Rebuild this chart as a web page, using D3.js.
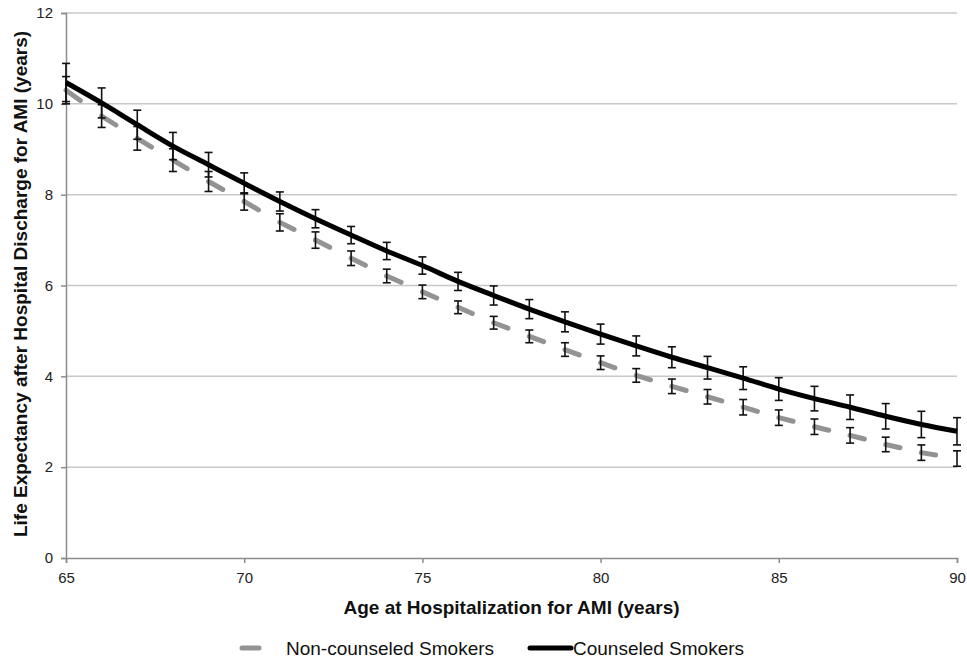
<!DOCTYPE html>
<html><head><meta charset="utf-8">
<script src="https://cdn.jsdelivr.net/npm/d3@7"></script>
<style>body{margin:0;background:#fff;} text{font-family:"Liberation Sans",Arial,sans-serif;}</style>
</head><body>
<svg id="c" width="967" height="659"></svg>
<script>
const ages = [65,66,67,68,69,70,71,72,73,74,75,76,77,78,79,80,81,82,83,84,85,86,87,88,89,90];
const counseled = [10.47,10.02,9.54,9.07,8.66,8.25,7.85,7.47,7.11,6.76,6.44,6.09,5.78,5.48,5.2,4.93,4.67,4.42,4.19,3.96,3.72,3.51,3.32,3.12,2.94,2.79];
const counseledErr = [0.42,0.33,0.32,0.3,0.27,0.23,0.21,0.2,0.19,0.19,0.19,0.2,0.21,0.21,0.22,0.22,0.22,0.23,0.25,0.25,0.25,0.27,0.27,0.28,0.29,0.3];
const nonCounseled = [10.3,9.73,9.24,8.76,8.29,7.85,7.39,7.0,6.6,6.21,5.86,5.52,5.18,4.88,4.59,4.3,4.02,3.78,3.55,3.32,3.09,2.89,2.7,2.5,2.32,2.19];
const nonCounseledErr = [0.3,0.25,0.26,0.25,0.22,0.19,0.19,0.18,0.16,0.15,0.15,0.14,0.14,0.14,0.15,0.15,0.15,0.16,0.16,0.17,0.17,0.17,0.17,0.16,0.17,0.17];
const xTicks = [65,70,75,80,85,90];
const yTicks = [0,2,4,6,8,10,12];
const seriesNames = ["Non-counseled Smokers","Counseled Smokers"];

const svg = d3.select("#c");
const x = d3.scaleLinear().domain([65,90]).range([66,957]);
const y = d3.scaleLinear().domain([0,12]).range([558,13]);

// gridlines
svg.append("g").selectAll("line").data(yTicks.filter(d=>d>0)).join("line")
  .attr("x1",x(65)).attr("x2",x(90)).attr("y1",d=>y(d)).attr("y2",d=>y(d))
  .attr("stroke","#c8c8c8").attr("stroke-width",1.5);

// axes
const yAxis = svg.append("g").attr("transform",`translate(${x(65)},0)`)
  .call(d3.axisLeft(y).tickValues(yTicks).tickSize(5).tickPadding(8).tickFormat(d3.format("d")));
const xAxis = svg.append("g").attr("transform",`translate(0,${y(0)})`)
  .call(d3.axisBottom(x).tickValues(xTicks).tickSize(5).tickPadding(9).tickFormat(d3.format("d")));
[yAxis,xAxis].forEach(a=>{
  a.select(".domain").attr("stroke","#8c8c8c").attr("stroke-width",1.5);
  a.selectAll(".tick line").attr("stroke","#8c8c8c").attr("stroke-width",1.5);
  a.selectAll("text").attr("font-size",15).attr("fill","#222").style("font-family","'Liberation Sans',Arial,sans-serif");
});

const ptsC = ages.map((a,i)=>({a, v:counseled[i], e:counseledErr[i]}));
const ptsN = ages.map((a,i)=>({a, v:nonCounseled[i], e:nonCounseledErr[i]}));

// non-counseled dashed segments (dash restarts at each point)
const segs = d3.pairs(ptsN);
svg.append("g").selectAll("path").data(segs).join("path")
  .attr("d",([p,q])=>`M${x(p.a)},${y(p.v)}L${x(q.a)},${y(q.v)}`)
  .attr("pathLength",100)
  .attr("stroke","#939393").attr("stroke-width",5).attr("fill","none")
  .attr("stroke-linecap","round").attr("stroke-dasharray","40 60");

// error bars
function errBars(pts){
  const g = svg.append("g").attr("stroke","#111").attr("stroke-width",1.6);
  pts.forEach(p=>{
    const cx = x(p.a), t = y(p.v+p.e), b = y(p.v-p.e);
    g.append("line").attr("x1",cx).attr("x2",cx).attr("y1",t).attr("y2",b);
    g.append("line").attr("x1",cx-4).attr("x2",cx+4).attr("y1",t).attr("y2",t);
    g.append("line").attr("x1",cx-4).attr("x2",cx+4).attr("y1",b).attr("y2",b);
  });
}
errBars(ptsN);
errBars(ptsC);

// counseled line
svg.append("path").datum(ptsC)
  .attr("d", d3.line().x(d=>x(d.a)).y(d=>y(d.v)).curve(d3.curveCatmullRom))
  .attr("fill","none").attr("stroke","#000").attr("stroke-width",5);

// axis titles
svg.append("text").attr("transform",`translate(27,284) rotate(-90)`)
  .attr("text-anchor","middle").attr("font-weight","bold").attr("font-size",19).attr("fill","#111")
  .text("Life Expectancy after Hospital Discharge for AMI (years)");
svg.append("text").attr("x",(x(65)+x(90))/2).attr("y",614)
  .attr("text-anchor","middle").attr("font-weight","bold").attr("font-size",19).attr("fill","#111")
  .text("Age at Hospitalization for AMI (years)");

// legend
const lg = svg.append("g");
lg.append("line").attr("x1",242).attr("x2",259).attr("y1",648).attr("y2",648)
  .attr("stroke","#939393").attr("stroke-width",5).attr("stroke-linecap","round");
lg.append("text").attr("x",286).attr("y",655).attr("font-size",19).attr("fill","#111").text(seriesNames[0]);
lg.append("line").attr("x1",530).attr("x2",571).attr("y1",648).attr("y2",648)
  .attr("stroke","#000").attr("stroke-width",5).attr("stroke-linecap","round");
lg.append("text").attr("x",573).attr("y",655).attr("font-size",19).attr("fill","#111").text(seriesNames[1]);
</script>
</body></html>
